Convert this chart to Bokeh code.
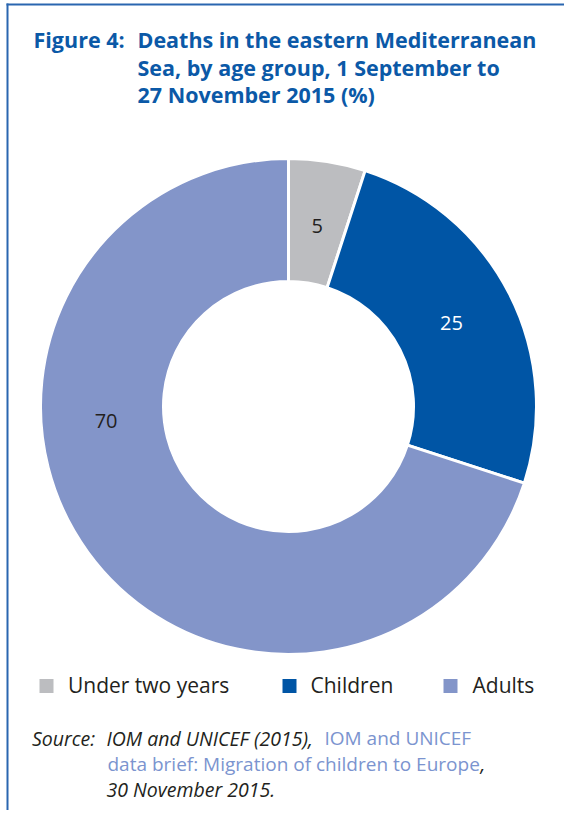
import math
from bokeh.plotting import figure
from bokeh.models import Range1d, ColumnDataSource
from bokeh.core.properties import value
from bokeh.embed import file_html
from bokeh.resources import INLINE

# ---- data ----
categories = ["Under two years", "Children", "Adults"]
values = [5, 25, 70]
colors = ["#bcbdc0", "#0055a5", "#8395c9"]
label_colors = ["#231f20", "#ffffff", "#231f20"]

title_lines = ["Deaths in the eastern Mediterranean",
               "Sea, by age group, 1 September to",
               "27 November 2015 (%)"]
title_prefix = "Figure 4:"

W, H = 564, 810
FONT = "Open Sans"


def Y(yref):
    return 818 - yref


p = figure(width=W, height=H, output_backend="svg", toolbar_location=None,
           x_range=Range1d(0, W), y_range=Range1d(818 - H, 818),
           min_border=0, outline_line_color=None)
p.axis.visible = False
p.grid.visible = False
p.background_fill_color = "white"

# frame lines
border = "#2a66b0"
p.segment(x0=[7], y0=[Y(3)], x1=[7], y1=[Y(818)], line_color=border, line_width=2)
p.segment(x0=[6], y0=[Y(4)], x1=[572], y1=[Y(4)], line_color=border, line_width=2)

# ---- donut ----
cx, cy = 288, Y(406)
r_out, r_in = 248, 125
total = sum(values)
starts, ends, cum = [], [], 0
for v in values:
    starts.append(math.pi / 2 - 2 * math.pi * cum / total)
    cum += v
    ends.append(math.pi / 2 - 2 * math.pi * cum / total)
src = ColumnDataSource(dict(cat=categories, val=values, color=colors,
                            start=starts, end=ends))
p.annular_wedge(x=cx, y=cy, inner_radius=r_in, outer_radius=r_out,
                start_angle="start", end_angle="end", direction="clock",
                fill_color="color", line_color="white", line_width=3, source=src)

# labels
lab_frac = []
cum = 0
for v in values:
    lab_frac.append((cum + v / 2) / total)
    cum += v
lab_frac[2] = 0.737  # label for the large slice sits near the left side
lab_r = 183
lx = [cx + lab_r * math.sin(2 * math.pi * f) for f in lab_frac]
ly = [cy + lab_r * math.cos(2 * math.pi * f) for f in lab_frac]
p.text(x=lx, y=ly, text=[str(v) for v in values], text_color=label_colors,
       text_font=value(FONT), text_font_size="20px", text_align="center",
       text_baseline="middle")

# ---- title ----
tcol = "#0b59a7"
p.text(x=[33], y=[Y(38.5)], text=[title_prefix], text_font=value(FONT),
       text_font_style="bold", text_font_size="21.5px", text_color=tcol,
       text_baseline="middle")
p.text(x=[137] * 3, y=[Y(38.5), Y(66.5), Y(93.5)], text=title_lines,
       text_font=value(FONT), text_font_style="bold", text_font_size="21.5px",
       text_color=tcol, text_baseline="middle")

# ---- legend ----
leg_sq_x = [46, 289, 450]
leg_tx_x = [67.5, 310, 472]
p.scatter(x=leg_sq_x, y=[Y(685.5)] * 3, marker="square", size=14,
          fill_color=colors, line_color=None)
p.text(x=leg_tx_x, y=[Y(684.5)] * 3, text=categories, text_font=value(FONT),
       text_font_size="21px", text_color="#231f20", text_baseline="middle")

# ---- source ----
dark = "#231f20"
link = "#7b94cf"
p.text(x=[31.5, 106, 106, 480], y=[Y(737.5), Y(737.5), Y(789), Y(763.5)],
       text=["Source:", "IOM and UNICEF (2015),", "30 November 2015.", ","],
       text_font=value(FONT), text_font_style="italic", text_font_size="19.5px",
       text_color=dark, text_baseline="middle")
p.text(x=[324, 107], y=[Y(737.5), Y(763.5)],
       text=["IOM and UNICEF", "data brief: Migration of children to Europe"],
       text_font=value(FONT), text_font_size="19px",
       text_color=link, text_baseline="middle")

open("out.html", "w").write(file_html(p, INLINE))
